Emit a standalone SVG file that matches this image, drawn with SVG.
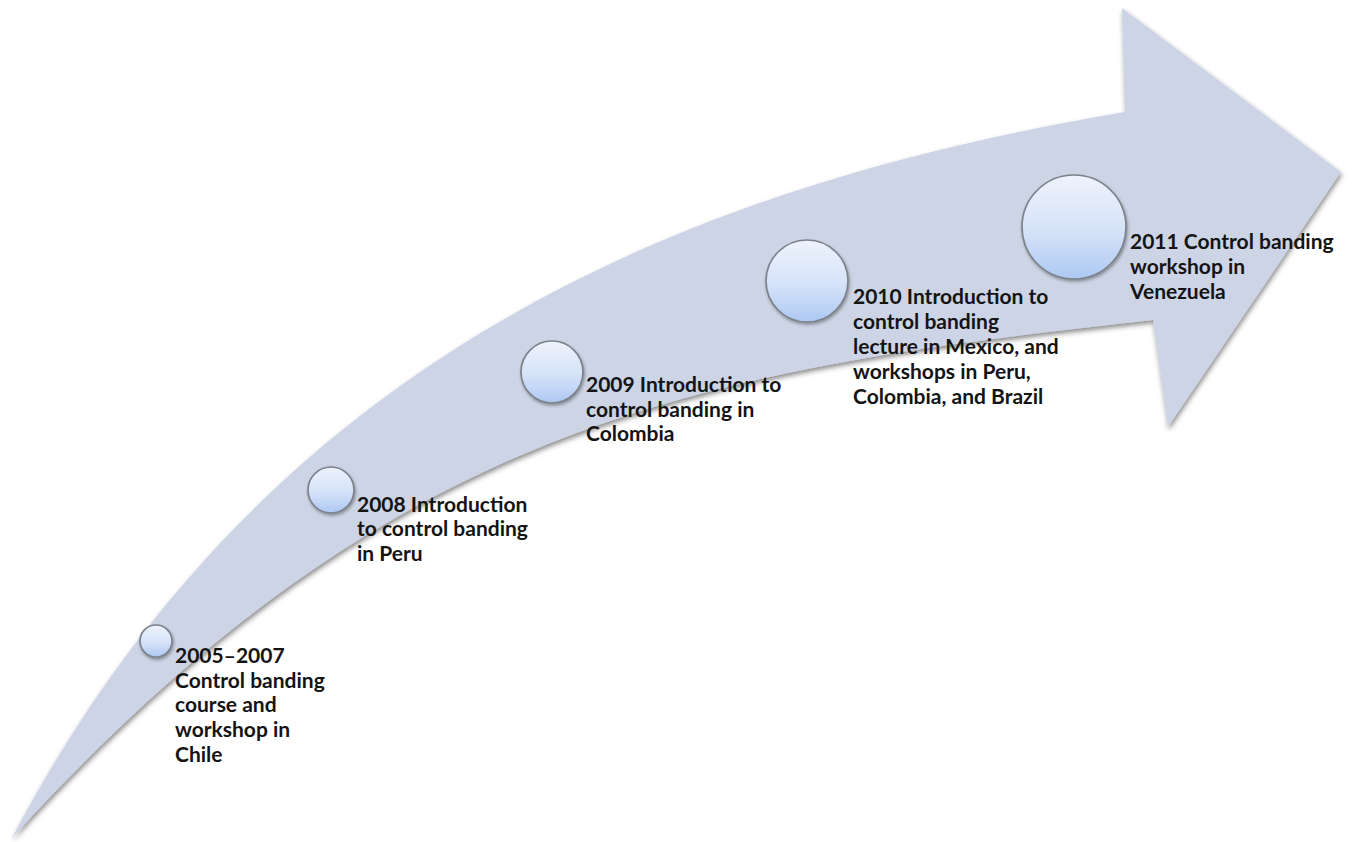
<svg xmlns="http://www.w3.org/2000/svg" width="1354" height="842" viewBox="0 0 1354 842">
  <defs>
    <linearGradient id="bubble" x1="0" y1="0" x2="0" y2="1">
      <stop offset="0" stop-color="#eef3fc"/>
      <stop offset="0.55" stop-color="#d5e2f8"/>
      <stop offset="1" stop-color="#adc8f3"/>
    </linearGradient>
    <filter id="arrowShadow" x="-5%" y="-5%" width="110%" height="115%">
      <feDropShadow dx="1" dy="3" stdDeviation="2.5" flood-color="#303030" flood-opacity="0.55"/>
    </filter>
    <filter id="bubbleShadow" x="-30%" y="-30%" width="160%" height="160%">
      <feDropShadow dx="1" dy="2" stdDeviation="1.5" flood-color="#303030" flood-opacity="0.45"/>
    </filter>
  </defs>
  <style>
    .arrow { fill: #ccd4e5; }
    .bubble { fill: url(#bubble); stroke: #7c828b; stroke-width: 1.7; filter: url(#bubbleShadow); }
    .label { font-family: Lato, "Liberation Sans", sans-serif; font-weight: bold; font-size: 21px; fill: #141414; }
  </style>
  <rect width="1354" height="842" fill="#ffffff"/>
  <g id="connectors">
    <path id="arrow" class="arrow" filter="url(#arrowShadow)" d="M 12,838 C 262,363 675,188 1125,112 L 1122,8 L 1341,172 L 1168,427 L 1153,320 C 703,369.5 392,420 12,838 Z"/>
  </g>
  <g id="node-2005">
    <circle class="bubble" cx="156" cy="641" r="16"/>
    <text class="label" x="175" y="663">2005–2007<tspan x="175" y="688">Control banding</tspan><tspan x="175" y="712">course and</tspan><tspan x="175" y="737">workshop in</tspan><tspan x="175" y="762">Chile</tspan></text>
  </g>
  <g id="node-2008">
    <circle class="bubble" cx="331" cy="490" r="23"/>
    <text class="label" x="357" y="512">2008 Introduction<tspan x="357" y="536">to control banding</tspan><tspan x="357" y="561">in Peru</tspan></text>
  </g>
  <g id="node-2009">
    <circle class="bubble" cx="552" cy="372" r="31"/>
    <text class="label" x="586" y="392">2009 Introduction to<tspan x="586" y="417">control banding in</tspan><tspan x="586" y="441">Colombia</tspan></text>
  </g>
  <g id="node-2010">
    <circle class="bubble" cx="807" cy="281" r="41"/>
    <text class="label" x="853" y="304">2010 Introduction to<tspan x="853" y="329">control banding</tspan><tspan x="853" y="354">lecture in Mexico, and</tspan><tspan x="853" y="379">workshops in Peru,</tspan><tspan x="853" y="404">Colombia, and Brazil</tspan></text>
  </g>
  <g id="node-2011">
    <circle class="bubble" cx="1074" cy="227" r="52"/>
    <text class="label" x="1130" y="249">2011 Control banding<tspan x="1130" y="274">workshop in</tspan><tspan x="1130" y="299">Venezuela</tspan></text>
  </g>
</svg>
